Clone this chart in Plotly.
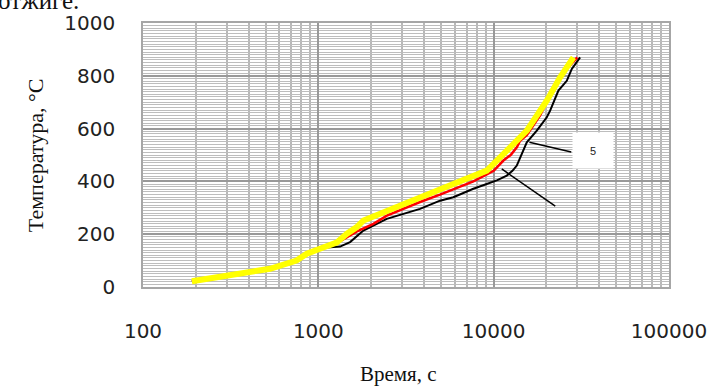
import math
import plotly.graph_objects as go

# ---- data (time in s, temperature in °C) ----
yellow_t = [190, 390, 530, 750, 860, 1020, 1270, 1450, 1650, 1810, 2460, 3800, 5890, 9130, 10870, 11870, 13540, 15450, 20090, 23930, 28510]
yellow_T = [22, 53, 69, 100, 126, 145, 168, 201, 226, 252, 289, 340, 390, 441, 491, 510, 548, 592, 706, 794, 870]

red_t = [190, 390, 530, 750, 860, 1020, 1270, 1450, 1650, 2060, 2460, 3800, 4940, 7660, 9130, 10000, 11360, 12500, 13550, 14150, 15450, 18400, 21930, 26120, 30000]
red_T = [22, 53, 69, 100, 126, 145, 165, 188, 210, 239, 270, 322, 350, 400, 425, 440, 479, 500, 529, 554, 575, 650, 750, 826, 870]

black_t = [190, 390, 530, 750, 860, 1020, 1120, 1330, 1517, 1807, 2456, 3802, 4943, 5888, 7660, 9130, 10500, 11880, 12800, 13550, 14150, 15450, 17620, 20090, 20990, 23400, 26120, 27900, 31120]
black_T = [22, 53, 69, 100, 126, 145, 150, 153, 170, 214, 258, 296, 327, 340, 372, 390, 405, 422, 440, 460, 491, 548, 592, 643, 668, 744, 781, 826, 870]

x_tickvals = [100, 1000, 10000, 100000]
x_ticktext = ["100", "1000", "10000", "100000"]
y_tickvals = [0, 200, 400, 600, 800, 1000]
y_ticktext = ["0", "200", "400", "600", "800", "1000"]

x_title = "Время, с"
y_title = "Температура, °С"
top_text = "отжиге."
label_text = "5"

minor_x = [m * 10 ** d for d in (2, 3, 4) for m in range(2, 10)]

fig = go.Figure()
fig.add_trace(go.Scatter(x=black_t, y=black_T, mode="lines",
                         line=dict(color="#000000", width=2), hoverinfo="skip"))
fig.add_trace(go.Scatter(x=red_t, y=red_T, mode="lines",
                         line=dict(color="#ff0000", width=2.5), hoverinfo="skip"))
fig.add_trace(go.Scatter(x=yellow_t, y=yellow_T, mode="lines",
                         line=dict(color="#ffff00", width=6), hoverinfo="skip"))

tickfont = dict(family="DejaVu Sans", size=20, color="#222222")
serif = "Liberation Serif"

fig.update_layout(
    width=713, height=389,
    margin=dict(l=143, r=44, t=23, b=102),
    paper_bgcolor="white", plot_bgcolor="white",
    showlegend=False,
    xaxis=dict(
        type="log", range=[2, 5], automargin=False,
        tickvals=x_tickvals, ticktext=x_ticktext,
        tickfont=tickfont, ticks="", ticklabelstandoff=25,
        showgrid=True, gridcolor="#999999", gridwidth=1.5,
        minor=dict(tickvals=minor_x, showgrid=True, gridcolor="#b8b8b8", gridwidth=1.5, ticks=""),
        showline=True, linecolor="#a6a6a6", linewidth=1.5, mirror=True,
        zeroline=False,
    ),
    yaxis=dict(
        range=[0, 1000], automargin=False,
        tickvals=y_tickvals, ticktext=y_ticktext,
        tickfont=tickfont, ticks="", ticklabelstandoff=22,
        showgrid=True, gridcolor="#999999", gridwidth=1.5,
        minor=dict(dtick=10, showgrid=True, gridcolor="#bdbdbd", gridwidth=1, ticks=""),
        showline=True, linecolor="#a6a6a6", linewidth=1.5, mirror=True,
        zeroline=False,
    ),
    annotations=[
        dict(text=x_title, xref="paper", yref="paper", x=0.485, y=-0.33,
             xanchor="center", yanchor="middle", showarrow=False,
             font=dict(family=serif, size=21, color="#111111")),
        dict(text=y_title, xref="paper", yref="paper", x=-0.205, y=0.5,
             xanchor="center", yanchor="middle", showarrow=False, textangle=-90,
             font=dict(family=serif, size=22, color="#111111")),
        dict(text=top_text, xref="paper", yref="paper", x=-0.279, y=1.085,
             xanchor="left", yanchor="middle", showarrow=False,
             font=dict(family=serif, size=25, color="#111111")),
        # leader lines
        dict(text="", x=math.log10(15990), y=548, ax=math.log10(28250), ay=510,
             xref="x", yref="y", axref="x", ayref="y", showarrow=True,
             arrowhead=0, arrowwidth=1.5, arrowcolor="#000000", standoff=0, startstandoff=0),
        dict(text="", x=math.log10(11120), y=447, ax=math.log10(22900), ay=302,
             xref="x", yref="y", axref="x", ayref="y", showarrow=True,
             arrowhead=0, arrowwidth=1.5, arrowcolor="#000000", standoff=0, startstandoff=0),
        dict(text=label_text, x=math.log10(36900), y=518, xref="x", yref="y",
             showarrow=False, bgcolor="white", width=38, height=33, borderpad=1,
             font=dict(family="Liberation Sans", size=11, color="#222222")),
    ],
)

fig.write_html("out.html",
               config={"displayModeBar": False},
               post_script="document.body.style.margin='0';document.body.style.padding='0';")
